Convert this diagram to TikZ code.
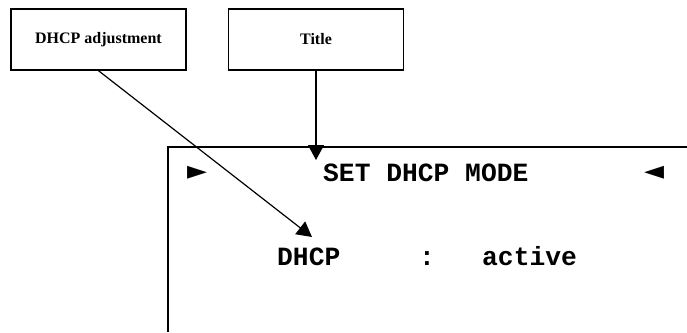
\documentclass[tikz,border=0pt]{standalone}
\usepackage{fontspec}
\setmainfont{Liberation Serif}
\newfontfamily\lcdfont{Liberation Mono}
\newfontfamily\symfont{DejaVu Sans}
\usetikzlibrary{arrows.meta,positioning,calc}

\begin{document}
\begin{tikzpicture}[x=1pt,y=-1pt,
  callout/.style={draw, line width=1.4pt, minimum width=175pt, minimum height=61pt, inner sep=0pt, font=\bfseries\fontsize{16}{18}\selectfont},
  lcd/.style={inner sep=0pt, anchor=base west, font=\lcdfont\bfseries\fontsize{26.3}{30}\selectfont},
  marker/.style={inner sep=0pt, font=\symfont\fontsize{26}{28}\selectfont},
  arr/.style={-{Triangle[length=15pt,width=16pt]}, line width=1.2pt}]
\useasboundingbox (0,0) rectangle (687,332);
% ----- callout boxes
\node[callout] (adj) at (98.5,39.5) {DHCP adjustment};
\node[callout] (title) at (316,39.5) {Title};
% ----- display frame (open to the right and below)
\coordinate (fbl) at (168,332);
\coordinate (ftl) at (168,147);
\coordinate (ftr) at (687,147);
\draw[line width=1.2pt] (fbl) -- (ftl) -- (ftr);
% ----- display text
\node[marker] (left) at (197,173) {►};
\node[marker] (right) at (654,173) {◄};
\node[lcd] (head) at (323,181) {SET DHCP MODE};
\node[lcd] (dhcp) at (277,265) {DHCP};
\node[lcd] (sep) at (419,265) {:};
\node[lcd] (val) at (482,265) {active};
% ----- arrows
\coordinate (adjtip) at (312,237);
\coordinate (titletip) at (316,160);
\draw[arr] (adj.south) -- (adjtip);
\draw[arr] (title.south) -- (titletip);
\end{tikzpicture}
\end{document}
